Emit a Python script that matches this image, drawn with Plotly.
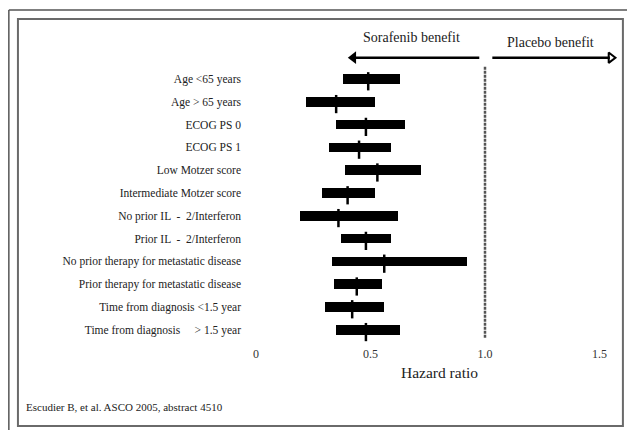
import plotly.graph_objects as go

# ---------------- data ----------------
subgroups = [
    "Age &lt;65 years",
    "Age &gt; 65 years",
    "ECOG PS 0",
    "ECOG PS 1",
    "Low Motzer score",
    "Intermediate Motzer score",
    "No prior IL  -  2/Interferon",
    "Prior IL  -  2/Interferon",
    "No prior therapy for metastatic disease",
    "Prior therapy for metastatic disease",
    "Time from diagnosis &lt;1.5 year",
    "Time from diagnosis &nbsp;&nbsp;&nbsp; &gt; 1.5 year",
]
hr_point = [0.49, 0.35, 0.48, 0.45, 0.53, 0.40, 0.36, 0.48, 0.56, 0.44, 0.42, 0.48]
ci_lower = [0.38, 0.22, 0.35, 0.32, 0.39, 0.29, 0.19, 0.37, 0.33, 0.34, 0.30, 0.35]
ci_upper = [0.63, 0.52, 0.65, 0.59, 0.72, 0.52, 0.62, 0.59, 0.92, 0.55, 0.56, 0.63]
x_ticks = [0, 0.5, 1.0, 1.5]
x_tick_labels = ["0", "0.5", "1.0", "1.5"]
reference_hr = 1.0

rows = list(range(len(subgroups)))
FONT = "Liberation Serif, Times New Roman, serif"

fig = go.Figure()

# CI bars
fig.add_trace(go.Bar(
    orientation="h",
    y=rows,
    base=ci_lower,
    x=[u - l for u, l in zip(ci_upper, ci_lower)],
    width=0.42,
    marker=dict(color="black", line=dict(width=0)),
    hoverinfo="skip",
    showlegend=False,
))

# point estimate ticks
tx, ty = [], []
for i, h in zip(rows, hr_point):
    tx += [h, h, None]
    ty += [i - 0.3, i + 0.5, None]
fig.add_trace(go.Scatter(x=tx, y=ty, mode="lines",
                         line=dict(color="black", width=2.5),
                         hoverinfo="skip", showlegend=False))

# reference line at HR = 1
fig.add_trace(go.Scatter(x=[reference_hr, reference_hr], y=[-0.54, 11.36], mode="lines",
                         line=dict(color="#555555", width=2.5, dash="3px,1px"),
                         hoverinfo="skip", showlegend=False))

# benefit arrows
arrow_y = -0.934
fig.add_trace(go.Scatter(x=[0.975, 0.43], y=[arrow_y, arrow_y], mode="lines",
                         line=dict(color="black", width=2.5),
                         hoverinfo="skip", showlegend=False))
fig.add_trace(go.Scatter(x=[0.425], y=[arrow_y], mode="markers",
                         marker=dict(symbol="triangle-left", size=11, color="black"),
                         hoverinfo="skip", showlegend=False))
fig.add_trace(go.Scatter(x=[1.032, 1.545], y=[arrow_y, arrow_y], mode="lines",
                         line=dict(color="black", width=2.5),
                         hoverinfo="skip", showlegend=False))
fig.add_trace(go.Scatter(x=[1.55], y=[arrow_y], mode="markers",
                         marker=dict(symbol="triangle-right-open", size=9, color="black",
                                     line=dict(width=2, color="black")),
                         hoverinfo="skip", showlegend=False))

annotations = [
    dict(x=0.677, y=-1.80, xref="x", yref="y", text="Sorafenib benefit", showarrow=False,
         font=dict(family=FONT, size=14, color="#222")),
    dict(x=1.284, y=-1.59, xref="x", yref="y", text="Placebo benefit", showarrow=False,
         font=dict(family=FONT, size=14, color="#222")),
    dict(x=0.80, y=-0.086, xref="x", yref="paper", text="Hazard ratio", showarrow=False,
         font=dict(family=FONT, size=15.5, color="#222"), yanchor="middle"),
    dict(x=-0.638, y=-0.19, xref="paper", yref="paper", xanchor="left", yanchor="middle",
         text="Escudier B, et al. ASCO 2005, abstract 4510", showarrow=False,
         font=dict(family=FONT, size=11, color="#222")),
]

shapes = [
    dict(type="rect", xref="paper", yref="paper", x0=-0.654, x1=1.008, y0=-0.249, y1=1.003,
         line=dict(color="#6a6a6a", width=2)),
    dict(type="line", xref="paper", yref="paper", x0=-0.679, x1=1.03, y0=1.031, y1=1.031,
         line=dict(color="#555555", width=1.5)),
    dict(type="line", xref="paper", yref="paper", x0=-0.679, x1=-0.679, y0=1.031, y1=-0.3,
         line=dict(color="#555555", width=1.5)),
]

fig.update_layout(
    width=627, height=430,
    margin=dict(l=256, r=7, t=20, b=85),
    paper_bgcolor="white", plot_bgcolor="white",
    showlegend=False,
    bargap=0,
    annotations=annotations,
    shapes=shapes,
    font=dict(family=FONT, color="#222"),
)
fig.update_xaxes(range=[0, 1.5895], tickvals=x_ticks, ticktext=x_tick_labels,
                 showgrid=False, zeroline=False, showline=False, ticks="",
                 tickfont=dict(family=FONT, size=12, color="#333"))
fig.update_yaxes(range=[11.667, -2.588], tickvals=rows, ticktext=subgroups,
                 showgrid=False, zeroline=False, showline=False, ticks="",
                 ticklabelstandoff=14,
                 tickfont=dict(family=FONT, size=11.5, color="#222"))

fig.write_html("out.html", config={"displayModeBar": False},
               post_script="document.body.style.margin='0';")
